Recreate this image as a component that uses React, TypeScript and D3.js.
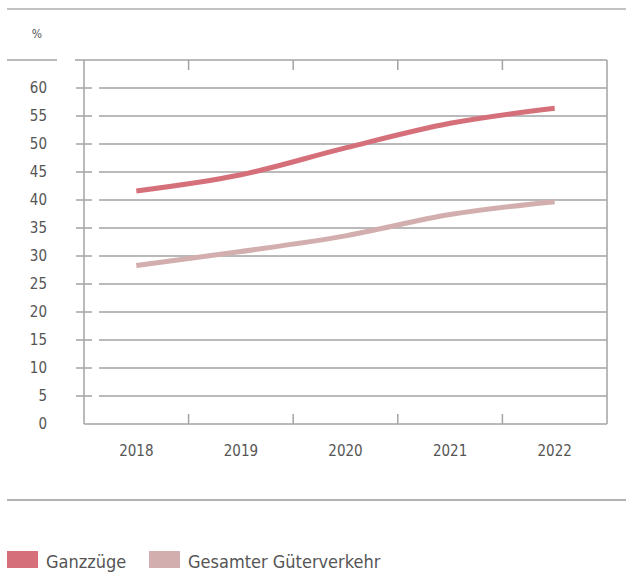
import * as d3 from "d3";

const YEARS = ["2018", "2019", "2020", "2021", "2022"];
const GANZZUEGE = [41.6, 44.5, 49.3, 53.7, 56.4];
const GESAMT = [28.3, 30.8, 33.6, 37.4, 39.7];
const Y_TICKS = [0, 5, 10, 15, 20, 25, 30, 35, 40, 45, 50, 55, 60];

const SERIES = [
  { name: "Ganzzüge", values: GANZZUEGE, color: "#d5707b" },
  { name: "Gesamter Güterverkehr", values: GESAMT, color: "#d3aeae" },
];

const W = 626;
const H = 572;
const FONT = "'DejaVu Sans Condensed', 'DejaVu Sans', sans-serif";
const GRID = "#a3a3a3";
const TEXT = "#555";

export default function App() {
  const left = 84;
  const right = 607;
  const top = 60;
  const bottom = 424;

  const x = d3.scaleBand<string>().domain(YEARS).range([left, right]);
  const y = d3.scaleLinear().domain([0, 65]).range([bottom, top]);

  const line = d3
    .line<number>()
    .x((_, i) => (x(YEARS[i]) ?? 0) + x.bandwidth() / 2)
    .y((d) => y(d))
    .curve(d3.curveMonotoneX);

  const boundaries = YEARS.slice(1).map((c) => x(c) ?? 0);

  return (
    <svg
      width={W}
      height={H}
      style={{ position: "absolute", left: 0, top: 0 }}
      fontFamily={FONT}
      fontStretch="condensed"
    >
      <rect width={W} height={H} fill="#fff" />
      <line x1={7} x2={626} y1={9} y2={9} stroke="#888" strokeWidth={1.2} />
      <text x={37} y={38} fontSize={12} fill={TEXT} textAnchor="middle">
        %
      </text>
      <line x1={7} x2={57} y1={60} y2={60} stroke={GRID} strokeWidth={1.5} />

      {/* frame */}
      <line x1={75} x2={right} y1={top} y2={top} stroke={GRID} strokeWidth={1.5} />
      <line x1={left} x2={left} y1={top} y2={bottom} stroke={GRID} strokeWidth={1.5} />
      <line x1={right} x2={right} y1={top} y2={bottom} stroke={GRID} strokeWidth={1.5} />
      <line x1={left} x2={right} y1={bottom} y2={bottom} stroke={GRID} strokeWidth={1.5} />

      {boundaries.map((bx) => (
        <g key={bx}>
          <line x1={bx} x2={bx} y1={top} y2={top + 10} stroke={GRID} strokeWidth={1.5} />
          <line x1={bx} x2={bx} y1={bottom} y2={bottom - 10} stroke={GRID} strokeWidth={1.5} />
        </g>
      ))}

      {Y_TICKS.map((t) => (
        <g key={t}>
          {t > 0 && (
            <>
              <line x1={76} x2={92} y1={y(t)} y2={y(t)} stroke={GRID} strokeWidth={1.5} />
              <line x1={99} x2={right} y1={y(t)} y2={y(t)} stroke={GRID} strokeWidth={1.5} />
            </>
          )}
          <text
            x={47}
            y={y(t) + 5}
            fontSize={15}
            fill={TEXT}
            textAnchor="end"
          >
            {t}
          </text>
        </g>
      ))}

      {YEARS.map((yr) => (
        <text
          key={yr}
          x={(x(yr) ?? 0) + x.bandwidth() / 2}
          y={456}
          fontSize={15}
          fill={TEXT}
          textAnchor="middle"
        >
          {yr}
        </text>
      ))}

      {SERIES.map((s) => (
        <path
          key={s.name}
          d={line(s.values) ?? ""}
          fill="none"
          stroke={s.color}
          strokeWidth={5}
        />
      ))}

      <line x1={7} x2={626} y1={500} y2={500} stroke="#666" strokeWidth={1.2} />

      <rect x={7} y={551} width={31} height={17} fill={SERIES[0].color} />
      <text x={46} y={568} fontSize={18} fill={TEXT}>
        {SERIES[0].name}
      </text>
      <rect x={149} y={551} width={31} height={17} fill={SERIES[1].color} />
      <text x={188} y={568} fontSize={18} fill={TEXT}>
        {SERIES[1].name}
      </text>
    </svg>
  );
}
